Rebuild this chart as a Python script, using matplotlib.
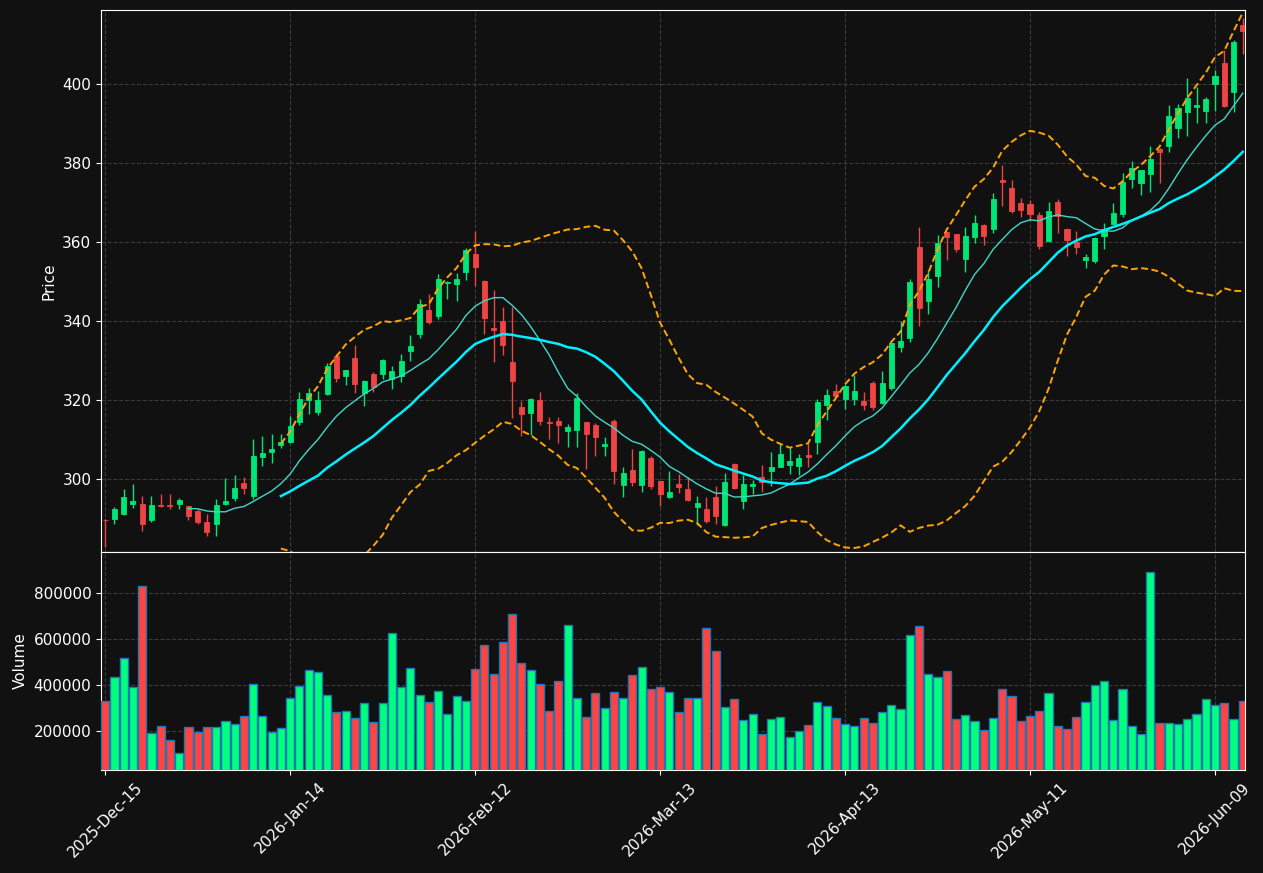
import numpy as np
import pandas as pd
import matplotlib
matplotlib.use('Agg')
import matplotlib.pyplot as plt

# daily OHLCV, trading days from 2025-12-15
holidays = ['2025-12-25', '2026-01-01', '2026-01-19', '2026-02-16', '2026-04-03', '2026-05-25']

opens = [289.8, 290.0, 291.2, 293.7, 293.7, 289.7, 293.4, 293.4, 293.7, 293.2,
         291.9, 289.1, 288.7, 293.7, 295.3, 299.0, 295.8, 305.6, 306.9, 308.8,
         309.5, 314.4, 320.1, 317.0, 321.7, 331.1, 326.2, 330.6, 321.8, 326.6,
         326.6, 325.5, 326.2, 332.4, 336.7, 342.9, 341.3, 349.6, 349.4, 352.5,
         357.0, 350.1, 338.3, 340.1, 329.7, 318.2, 316.8, 320.0, 314.5, 314.8,
         312.2, 312.4, 314.4, 313.7, 308.4, 314.8, 298.5, 302.3, 298.5, 305.3,
         299.5, 295.5, 298.7, 297.5, 293.0, 292.4, 295.4, 288.5, 303.8, 294.5,
         298.2, 300.6, 302.0, 303.1, 303.5, 303.3, 306.2, 309.5, 318.9, 322.3,
         320.4, 320.4, 319.8, 324.3, 319.2, 323.2, 333.5, 335.7, 358.9, 345.1,
         351.5, 362.5, 362.0, 355.8, 361.3, 364.3, 363.3, 375.7, 373.8, 369.9,
         369.6, 366.9, 360.4, 370.3, 363.3, 360.1, 355.5, 355.3, 361.6, 364.6,
         367.1, 376.1, 374.9, 377.2, 383.7, 384.4, 388.9, 393.0, 394.3, 393.2,
         400.0, 405.3, 398.1, 414.9]

highs = [290.0, 293.1, 297.5, 298.7, 295.8, 295.8, 296.4, 296.2, 295.3, 293.3,
         292.4, 291.3, 295.1, 300.3, 301.0, 300.6, 310.1, 310.9, 311.4, 311.5,
         316.0, 322.1, 323.2, 322.4, 329.4, 331.7, 327.8, 334.0, 325.2, 327.2,
         330.4, 328.8, 331.7, 336.5, 345.6, 346.8, 352.0, 350.3, 352.3, 358.6,
         362.9, 350.4, 347.8, 343.7, 343.7, 319.9, 320.7, 322.2, 315.8, 315.8,
         314.1, 321.9, 314.6, 314.2, 310.6, 315.3, 303.0, 307.6, 307.5, 305.9,
         299.7, 302.1, 301.3, 300.5, 295.8, 295.6, 298.3, 301.7, 304.1, 301.0,
         299.9, 303.5, 306.8, 309.2, 308.2, 306.4, 309.1, 320.3, 322.8, 324.1,
         324.2, 326.3, 322.0, 325.0, 327.3, 334.5, 340.1, 350.7, 364.0, 353.1,
         361.9, 362.7, 362.2, 364.0, 366.8, 364.6, 372.6, 379.5, 375.9, 371.3,
         370.6, 367.6, 370.3, 371.0, 363.5, 362.9, 357.0, 361.4, 364.9, 370.0,
         377.5, 380.5, 378.4, 384.5, 384.0, 394.8, 395.1, 401.5, 399.2, 396.9,
         403.6, 408.6, 411.2, 416.9]

lows = [282.8, 288.6, 291.0, 292.8, 286.9, 289.2, 292.9, 292.4, 292.4, 289.8,
        288.6, 285.6, 285.6, 293.5, 294.4, 296.2, 295.1, 303.4, 304.2, 307.9,
        309.1, 313.7, 316.6, 316.4, 321.3, 324.7, 323.8, 321.9, 318.5, 322.1,
        325.3, 322.8, 324.7, 329.9, 335.9, 339.2, 340.6, 345.7, 345.1, 350.4,
        348.9, 336.7, 329.8, 331.4, 315.6, 310.9, 311.1, 313.7, 310.2, 309.3,
        308.1, 308.1, 302.7, 305.9, 305.9, 298.7, 295.4, 298.2, 296.8, 297.6,
        293.3, 295.3, 296.6, 294.6, 288.4, 288.9, 288.7, 288.3, 297.6, 292.4,
        296.2, 296.7, 298.3, 303.0, 301.4, 301.0, 303.1, 306.5, 315.0, 321.0,
        317.7, 318.9, 317.5, 317.5, 319.0, 322.6, 332.3, 334.8, 338.7, 341.8,
        348.6, 355.4, 357.6, 352.6, 359.7, 359.3, 362.3, 369.1, 367.4, 366.3,
        365.4, 358.4, 360.2, 362.3, 356.5, 357.1, 353.5, 354.7, 358.2, 364.4,
        366.5, 373.7, 372.0, 372.8, 375.0, 382.9, 386.5, 386.8, 390.2, 390.2,
        393.2, 394.3, 393.0, 407.7]

closes = [289.6, 292.4, 295.6, 294.4, 288.7, 293.4, 293.2, 293.2, 294.7, 290.7,
          289.2, 286.7, 293.6, 294.4, 297.7, 297.8, 305.8, 306.6, 307.8, 309.5,
          313.5, 320.3, 321.8, 320.0, 328.7, 325.6, 327.6, 324.1, 325.0, 323.4,
          330.1, 327.3, 329.9, 333.7, 344.3, 339.8, 350.8, 350.0, 350.8, 358.0,
          353.8, 340.8, 337.8, 333.9, 324.9, 316.5, 320.4, 314.8, 314.2, 313.8,
          313.3, 320.5, 311.4, 310.7, 308.9, 302.1, 301.7, 299.3, 307.1, 298.2,
          296.3, 296.9, 298.1, 294.8, 293.9, 289.4, 290.7, 299.2, 297.7, 298.7,
          298.7, 299.3, 303.1, 306.3, 304.6, 305.3, 305.7, 319.6, 321.3, 321.1,
          323.6, 322.4, 318.8, 318.2, 324.5, 334.4, 334.9, 349.9, 343.3, 350.6,
          359.7, 361.4, 358.2, 361.5, 364.8, 361.6, 370.9, 375.3, 367.8, 368.2,
          367.1, 359.1, 367.8, 366.7, 360.5, 358.8, 356.4, 361.2, 363.3, 367.3,
          375.3, 378.7, 378.2, 381.0, 382.9, 392.0, 394.1, 396.6, 394.7, 396.4,
          402.0, 394.5, 410.6, 413.5]

volumes = [330700, 435200, 518000, 391700, 831600, 191300, 221800, 160800, 104200, 217400,
           195600, 217400, 217400, 243600, 230500, 265300, 404700, 265300, 195600, 213100,
           343700, 396000, 465700, 457000, 356800, 282800, 287100, 256600, 322000, 239200,
           322000, 626900, 391700, 474400, 356800, 326300, 374200, 274000, 352500, 330700,
           470100, 574600, 448300, 587700, 709700, 496200, 465700, 404700, 287100, 417800,
           661700, 343700, 261000, 365500, 300200, 369900, 343700, 443900, 478800, 383000,
           391700, 369900, 282800, 343700, 343700, 648700, 548500, 304500, 339400, 247900,
           274000, 186900, 252300, 261000, 173900, 200000, 226100, 326300, 308900, 256600,
           230500, 221800, 256600, 234800, 282800, 313300, 295800, 618200, 657400, 448300,
           435200, 461400, 252300, 269700, 243600, 204400, 256600, 383000, 352500, 243600,
           265300, 287100, 365500, 221800, 208700, 261000, 326300, 400400, 417800, 247900,
           383000, 221800, 186900, 888200, 234800, 234800, 230500, 252300, 274000, 339400,
           313300, 322000, 252300, 330700]

bg = '#111111'
up_col = '#00e676'
dn_col = '#ef4444'
vup_col = '#00ff7f'
vdn_col = '#ff4444'

dates = pd.bdate_range('2025-12-15', periods=len(closes), freq='C', holidays=holidays)
x = np.arange(len(closes))
o = np.array(opens)
c = np.array(closes)
up = c >= o

cs = pd.Series(closes)
ma10 = cs.rolling(10).mean()
ma20 = cs.rolling(20).mean()
sd20 = cs.rolling(20).std()
bb_hi = ma20 + 2 * sd20
bb_lo = ma20 - 2 * sd20

fig = plt.figure(figsize=(12.63, 8.73), dpi=100, facecolor=bg)
ax1 = fig.add_axes([0.0800, 0.3677, 0.9058, 0.6208], facecolor=bg)
ax2 = fig.add_axes([0.0800, 0.1180, 0.9058, 0.2497], facecolor=bg, sharex=ax1)

for ax in (ax1, ax2):
    ax.grid(True, linestyle='--', color='#3a3a3a', linewidth=0.8)
    ax.set_axisbelow(True)
    for s in ax.spines.values():
        s.set_color('white')
    ax.tick_params(colors='white', labelsize=11)

# candles
ccol = np.where(up, up_col, dn_col)
ax1.vlines(x, lows, highs, colors=ccol, linewidth=1.0, zorder=2)
ax1.bar(x, np.abs(c - o), bottom=np.minimum(o, c), width=0.55,
        color=ccol, edgecolor=ccol, linewidth=0.6, zorder=3)

ax1.plot(x, ma10, color='#40d8c8', linewidth=1.0, zorder=4)
ax1.plot(x, ma20, color='#00f0ff', linewidth=1.8, zorder=4)
ax1.plot(x, bb_hi, color='orange', linewidth=1.4, linestyle=(0, (3.5, 1.8)), zorder=4)
ax1.plot(x, bb_lo, color='orange', linewidth=1.4, linestyle=(0, (3.5, 1.8)), zorder=4)

ax1.set_ylim(281.6, 418.8)
ax1.set_yticks([300, 320, 340, 360, 380, 400])
ax1.set_ylabel('Price', color='white', fontsize=11)
ax1.tick_params(axis='x', length=0, labelbottom=False)

# volume
vcol = np.where(up, vup_col, vdn_col)
ax2.bar(x, volumes, width=0.88, color=vcol, edgecolor='#1f77b4', linewidth=1.0, zorder=3)
ax2.set_ylim(0.3 * min(volumes), 1.1 * max(volumes))
ax2.set_yticks([200000, 400000, 600000, 800000])
ax2.ticklabel_format(style='plain', axis='y')
ax2.set_ylabel('Volume', color='white', fontsize=11)

ticks = list(range(0, len(x), 20))
ax2.set_xticks(ticks)
ax2.set_xticklabels([dates[i].strftime('%Y-%b-%d') for i in ticks], rotation=45)
ax2.set_xlim(-0.45, 123.25)

fig.savefig('out.png', dpi=100, facecolor=bg)
